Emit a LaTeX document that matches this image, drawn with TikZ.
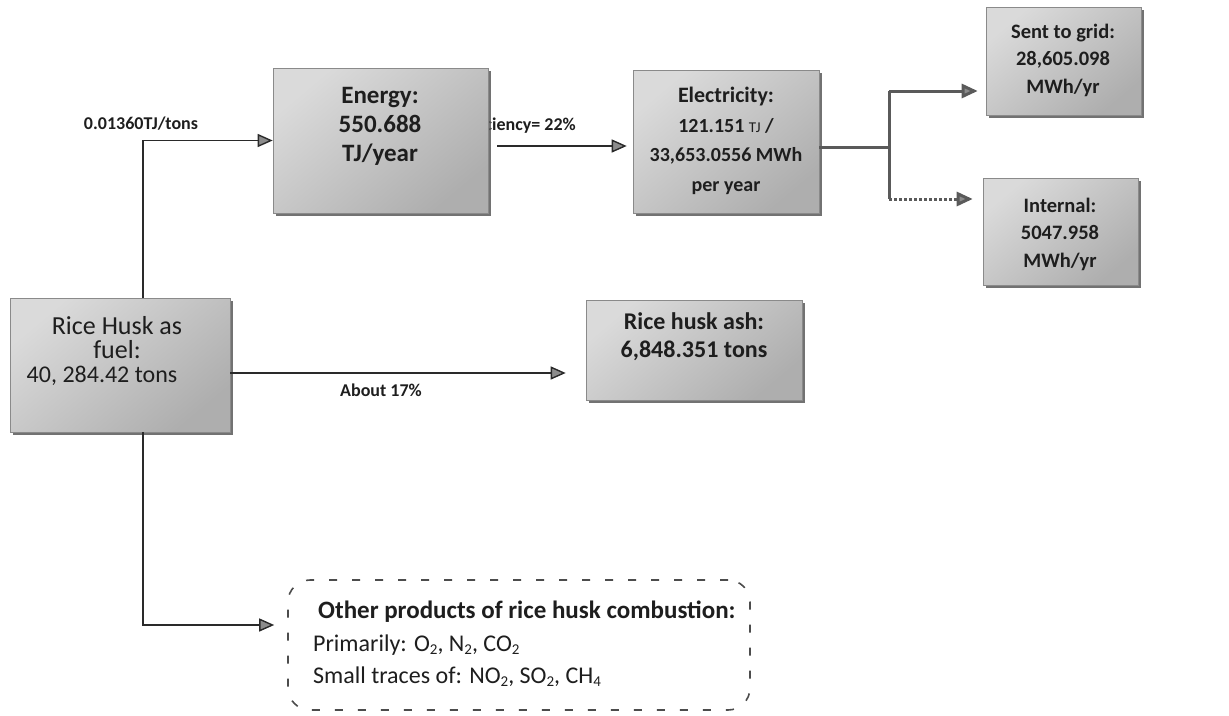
\documentclass[tikz,border=0pt]{standalone}
\usepackage{fontspec}
\setmainfont{Carlito}
\usetikzlibrary{arrows.meta,shadows}

\definecolor{ink}{HTML}{1E1E1E}
\definecolor{linecol}{HTML}{2A2A2A}
\definecolor{branchcol}{HTML}{5A5A5A}
\definecolor{tipfill}{HTML}{8C8C8C}
\definecolor{edgecol}{HTML}{8A8A8A}
\definecolor{boxlight}{HTML}{DADADA}
\definecolor{boxdark}{HTML}{AEAEAE}

% small lowered digits for chemical formulas
\newcommand{\chemsub}[1]{\raisebox{-0.25ex}{\fontsize{15}{15}\selectfont #1}}
\newcommand{\fsz}[2]{\fontsize{#1}{#2}\selectfont}

\tikzset{
  flowbox/.style={rectangle, inner sep=0pt, draw=edgecol, line width=0.6pt,
    top color=boxlight, bottom color=boxdark, shading angle=40,
    drop shadow={shadow xshift=2.5pt, shadow yshift=-2.5pt, fill=black!65, opacity=0.85}},
  boxtext/.style={text=ink, align=center, inner sep=0pt},
  flow/.style={draw=linecol, line width=1.4pt,
    -{Triangle[length=15pt,width=13pt,fill=tipfill]}},
  branch/.style={draw=branchcol, line width=3pt},
  flowlabel/.style={text=ink, font=\fsz{18}{20}\bfseries, inner sep=0pt},
  otherbox/.style={rectangle, rounded corners=22pt, draw=gray!60!black,
    line width=1.6pt, dash pattern=on 8pt off 15pt, fill=white},
}

\begin{document}
\begin{tikzpicture}[x=1pt, y=-1pt]
\useasboundingbox (0,0) rectangle (1229,715);

% efficiency label sits partly behind the energy box
\node[flowlabel, anchor=east] (efflabel) at (576,126) {Efficiency= 22\%};

% boxes
\node[flowbox, minimum width=220pt, minimum height=134pt] (fuel) at (120,365) {};
\node[flowbox, minimum width=215pt, minimum height=145pt] (energy) at (380.5,140.5) {};
\node[flowbox, minimum width=186pt, minimum height=143pt] (elec) at (726,141.5) {};
\node[flowbox, minimum width=155pt, minimum height=108pt] (grid) at (1063.5,61) {};
\node[flowbox, minimum width=155pt, minimum height=107pt] (internal) at (1060.5,231.5) {};
\node[flowbox, minimum width=216pt, minimum height=100pt] (ash) at (694,350) {};
\node[otherbox, minimum width=462pt, minimum height=130pt] (other) at (519,645) {};

% box texts
\node[boxtext, font=\fsz{26}{24}] (fuelT) at (117,351)
  {Rice Husk as\\fuel:\\{\fsz{24}{24}40, 284.42 tons}\hspace*{30pt}};
\node[boxtext, font=\fsz{25}{29}\bfseries] (energyT) at (380,126)
  {Energy:\\550.688\\TJ/year};
\node[boxtext, font=\fsz{20}{29.5}\bfseries] (elecT) at (726,141)
  {{\fsz{22}{29.5}Electricity:}\\121.151 {\fsz{15}{15}\mdseries TJ} /\\33,653.0556 MWh\\per year};
\node[boxtext, font=\fsz{20.5}{27.5}\bfseries] (gridT) at (1063,60)
  {Sent to grid:\\28,605.098\\MWh/yr};
\node[boxtext, font=\fsz{20.5}{27.5}\bfseries] (internalT) at (1060,234)
  {Internal:\\5047.958\\MWh/yr};
\node[boxtext, font=\fsz{24}{28}\bfseries] (ashT) at (694,337)
  {Rice husk ash:\\6,848.351 tons};
\node[text=ink, align=left, inner sep=0pt, anchor=west, font=\fsz{24}{32.5}] (otherT) at (313,644)
  {\hspace*{5pt}{\fsz{25}{32.5}\bfseries Other products of rice husk combustion:}\\
   Primarily: O\chemsub{2}, N\chemsub{2}, CO\chemsub{2}\\
   Small traces of: NO\chemsub{2}, SO\chemsub{2}, CH\chemsub{4}};

% connectors from the fuel box
\draw[flow] ([xshift=23pt]fuel.north) |- (energy.west);
\node[flowlabel] (heatlabel) at (141,124) {0.01360TJ/tons};

\draw[flow, shorten >=20pt] ([yshift=-8pt]fuel.east) -- ([yshift=-8pt]fuel.east -| ash.west);
\node[flowlabel] (ashlabel) at (381,390) {About 17\%};

\draw[flow, shorten >=13pt] ([xshift=23pt]fuel.south) |- ([yshift=20pt]other.west);

% energy to electricity
\draw[flow, shorten <=9pt, shorten >=6pt]
  ([yshift=-5.5pt]energy.east) -- ([yshift=-5.5pt]energy.east -| elec.west);

% electricity split
\coordinate (split) at (889,147);
\coordinate (splittop) at (889,91);
\coordinate (splitbot) at (889,199);
\draw[branch] ([yshift=-5.5pt]elec.east) -- (split);
\draw[branch] (splittop) -- (splitbot);
\draw[branch, -{Triangle[length=16pt,width=14pt,fill=tipfill]}, shorten >=8pt]
  (splittop) -- (splittop -| grid.west);
\draw[branch, dash pattern=on 3pt off 2pt, -{Triangle[length=16pt,width=14pt,fill=tipfill]}, shorten >=10pt]
  (splitbot) -- (splitbot -| internal.west);
\end{tikzpicture}
\end{document}
